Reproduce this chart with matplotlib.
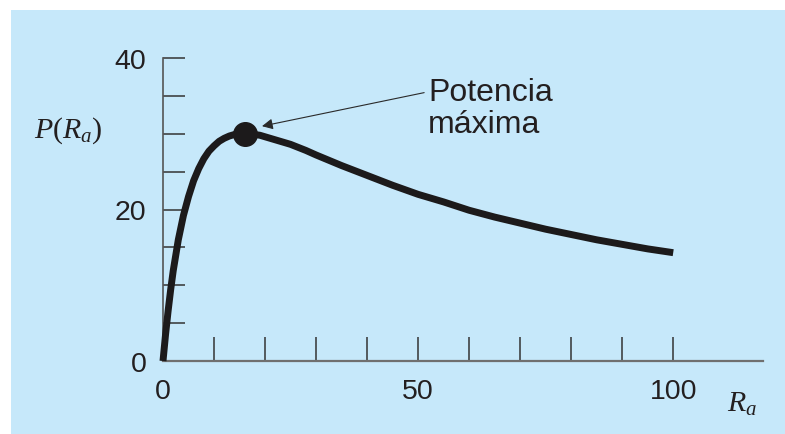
import matplotlib
matplotlib.use("Agg")
import matplotlib.pyplot as plt
from matplotlib.patches import Rectangle

# values
ra = [0, 0.5, 1, 1.5, 2, 3, 4, 5, 6, 7, 8, 9, 10, 11, 12, 13, 14, 15, 16, 17,
      18, 19, 20, 22, 25, 28, 30, 35, 40, 45, 50, 55, 60, 65, 70, 75, 80, 85,
      90, 95, 100]
p = [0.0, 3.5, 6.6, 9.4, 11.9, 16.0, 19.2, 21.7, 23.8, 25.4, 26.7, 27.7, 28.4,
     29.0, 29.4, 29.7, 29.9, 30.0, 30.0, 30.0, 29.9, 29.8, 29.6, 29.2, 28.6,
     27.8, 27.2, 25.8, 24.5, 23.2, 22.0, 21.0, 19.9, 19.0, 18.2, 17.4, 16.7,
     16.0, 15.4, 14.8, 14.3]
peak_ra, peak_p = 16, 30
x_ticks = list(range(0, 101, 10))
x_labels = ["0", "", "", "", "", "50", "", "", "", "", "100"]
y_ticks = list(range(0, 41, 5))
y_labels = ["0", "", "", "", "20", "", "", "", "40"]

plt.rcParams["font.family"] = "Liberation Sans"
plt.rcParams["mathtext.fontset"] = "custom"
plt.rcParams["mathtext.rm"] = "Liberation Serif"
plt.rcParams["mathtext.it"] = "Liberation Serif:italic"

ink = "#231f20"
bg = "#c6e8fa"

fig = plt.figure(figsize=(7.85, 4.35), dpi=100, facecolor="white")
fig.patches.append(Rectangle((11 / 785, 0), 1, 1 - 11 / 435,
                             transform=fig.transFigure, facecolor=bg,
                             edgecolor="none", zorder=-10))

ax = fig.add_axes([163 / 785, 73 / 435, 600 / 785, 303 / 435])
ax.set_facecolor("none")
ax.set_xlim(0, 117.6)
ax.set_ylim(0, 40)
for side in ["top", "right"]:
    ax.spines[side].set_visible(False)
ax.spines["left"].set_color("#555555")
ax.spines["bottom"].set_color("#6f6f6f")
ax.spines["left"].set_linewidth(1.2)
ax.spines["bottom"].set_linewidth(1.6)

ax.set_xticks(x_ticks)
ax.set_xticklabels(x_labels)
ax.set_yticks(y_ticks)
ax.set_yticklabels(y_labels)
ax.tick_params(axis="x", direction="in", length=17, width=1.1, color="#333333",
               pad=12, labelsize=20.5, labelcolor=ink)
ax.tick_params(axis="y", direction="in", length=16, width=1.1, color="#333333",
               pad=12, labelsize=20.5, labelcolor=ink)
ax.get_xticklines()[-2].set_color("#8a8a8a")

ax.plot(ra, p, color="#1c1a1b", lw=5.0, solid_capstyle="butt",
        solid_joinstyle="round", clip_on=False, zorder=3)
ax.plot([peak_ra], [peak_p], "o", color="#1c1a1b", markersize=17,
        clip_on=False, zorder=4)

ax.annotate("Potencia\nmáxima", xy=(19.4, 31.0), xytext=(52.0, 37.5),
            ha="left", va="top", fontsize=23, color=ink, linespacing=1.08,
            arrowprops=dict(arrowstyle="-|>", color="#2a2a2a", lw=0.8,
                            mutation_scale=16, relpos=(0, 0.76),
                            shrinkA=1, shrinkB=0))

ax.text(-18.6, 30.6, r"$P(R_a)$", ha="center", va="center", fontsize=21.5,
        color=ink, clip_on=False)
ax.text(113.5, -5.5, r"$R_a$", ha="center", va="center", fontsize=21.5,
        color=ink, clip_on=False)

fig.savefig("out.png", dpi=100, facecolor="white")
